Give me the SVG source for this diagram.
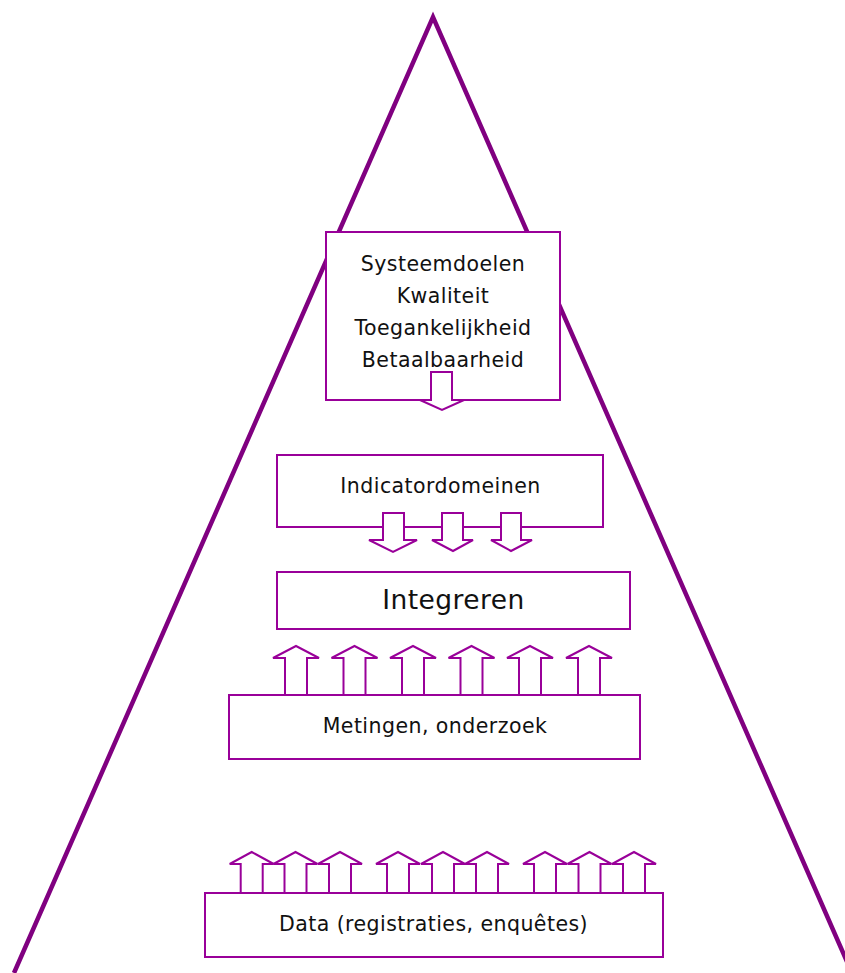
<svg xmlns="http://www.w3.org/2000/svg" width="845" height="973" viewBox="0 0 845 973">
<style>
.tri{fill:none;stroke:#800080;stroke-width:4.5;stroke-linejoin:miter}
.box{fill:#ffffff;stroke:#990099;stroke-width:2}
.arr{fill:#ffffff;stroke:#990099;stroke-width:2;stroke-linejoin:miter}
.t{font-family:"DejaVu Sans","Liberation Sans",sans-serif;font-size:20.5px;fill:#111111;text-anchor:middle;letter-spacing:0.45px}
.big{font-size:26.5px}
</style>
<rect width="845" height="973" fill="#ffffff"/>
<g id="pyramid">
<polyline class="tri" points="14,973 433,17 852,973"/>
</g>
<g id="systeemdoelen">
<rect class="box" x="326" y="232" width="234" height="168"/>
<text class="t" x="443" y="271">Systeemdoelen</text>
<text class="t" x="443" y="302.5">Kwaliteit</text>
<text class="t" x="443" y="335">Toegankelijkheid</text>
<text class="t" x="443" y="366.5">Betaalbaarheid</text>
</g>
<g id="indicatordomeinen">
<rect class="box" x="277" y="455" width="326" height="72"/>
<text class="t" x="440.5" y="493">Indicatordomeinen</text>
</g>
<g id="integreren">
<rect class="box" x="277" y="572" width="353" height="57"/>
<text class="t big" x="453.5" y="609">Integreren</text>
</g>
<g id="metingen">
<rect class="box" x="229" y="695" width="411" height="64"/>
<text class="t" x="435" y="733">Metingen, onderzoek</text>
</g>
<g id="data">
<rect class="box" x="205" y="893" width="458" height="64"/>
<text class="t" x="433.5" y="931">Data (registraties, enquêtes)</text>
</g>
<g id="connectors">
<polygon class="arr" points="431,372 452,372 452,400 464,400 442,410 420,400 431,400"/>
<polygon class="arr" points="383,513 404,513 404,540 417,540 393,552 369,540 383,540"/>
<polygon class="arr" points="442,513 463,513 463,540 473,540 453,551 432,540 442,540"/>
<polygon class="arr" points="501,513 521,513 521,540 532,540 511,551 491,540 501,540"/>
<g id="up-arrows">
<polygon class="arr" points="285,695 285,658 273,658 296,646 319,658 307,658 307,695"/>
<polygon class="arr" points="343.5,695 343.5,658 331.5,658 354.5,646 377.5,658 365.5,658 365.5,695"/>
<polygon class="arr" points="402,695 402,658 390,658 413,646 436,658 424,658 424,695"/>
<polygon class="arr" points="460.5,695 460.5,658 448.5,658 471.5,646 494.5,658 482.5,658 482.5,695"/>
<polygon class="arr" points="519,695 519,658 507,658 530,646 553,658 541,658 541,695"/>
<polygon class="arr" points="578,695 578,658 566,658 589,646 612,658 600,658 600,695"/>
</g>
<g id="data-arrows">
<polygon class="arr" points="240.7,893 240.7,864 229.7,864 251.7,852 273.7,864 262.7,864 262.7,893"/>
<polygon class="arr" points="284.5,893 284.5,864 273.5,864 295.5,852 317.5,864 306.5,864 306.5,893"/>
<polygon class="arr" points="329,893 329,864 318,864 340,852 362,864 351,864 351,893"/>
<polygon class="arr" points="387,893 387,864 376,864 398,852 420,864 409,864 409,893"/>
<polygon class="arr" points="432,893 432,864 421,864 443,852 465,864 454,864 454,893"/>
<polygon class="arr" points="476,893 476,864 465,864 487,852 509,864 498,864 498,893"/>
<polygon class="arr" points="534,893 534,864 523,864 545,852 567,864 556,864 556,893"/>
<polygon class="arr" points="578.5,893 578.5,864 567.5,864 589.5,852 611.5,864 600.5,864 600.5,893"/>
<polygon class="arr" points="623,893 623,864 612,864 634,852 656,864 645,864 645,893"/>
</g>
</g>
</svg>
